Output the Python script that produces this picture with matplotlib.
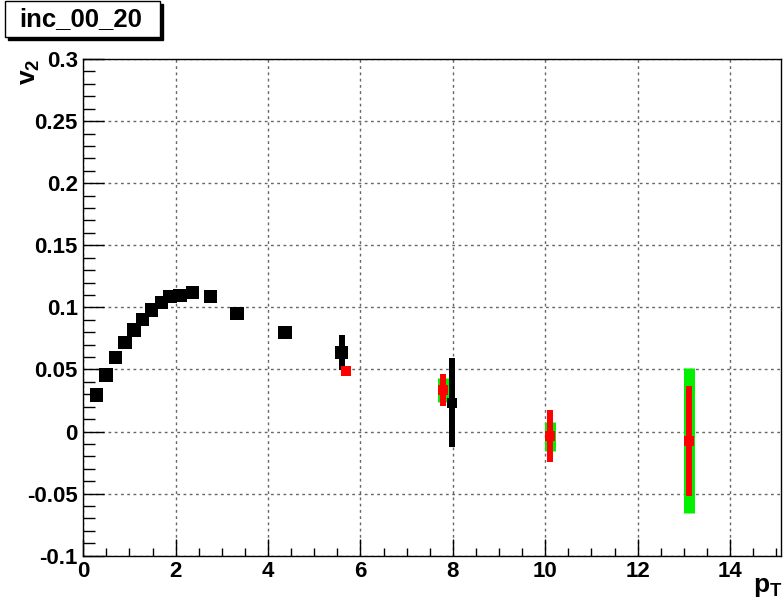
import matplotlib
matplotlib.use("Agg")
import matplotlib.pyplot as plt
from matplotlib.patches import Rectangle
from matplotlib.ticker import MultipleLocator

# ---------------- data ----------------
black_x = [0.29, 0.49, 0.69, 0.90, 1.10, 1.28, 1.48, 1.69, 1.88, 2.09, 2.36, 2.76, 3.33, 4.37, 5.59, 7.99]
black_y = [0.0294, 0.0455, 0.0597, 0.0715, 0.0817, 0.0903, 0.0978, 0.104, 0.1085, 0.1097, 0.112, 0.109,
           0.095, 0.0795, 0.0635, 0.0232]
black_err = [0, 0, 0, 0, 0, 0, 0, 0, 0, 0, 0, 0, 0, 0, 0.014, 0.036]

red_x = [5.69, 7.79, 10.1, 13.12]
red_y = [0.0487, 0.0334, -0.0037, -0.0076]
red_err = [0.0, 0.013, 0.021, 0.0443]

green_x = [7.79, 10.1, 13.12]
green_y = [0.0334, -0.0037, -0.0076]
green_err = [0.0097, 0.0117, 0.0584]

x_ticks = [0, 2, 4, 6, 8, 10, 12, 14]
y_ticks = [-0.1, -0.05, 0, 0.05, 0.1, 0.15, 0.2, 0.25, 0.3]
y_tick_labels = ["-0.1", "-0.05", "0", "0.05", "0.1", "0.15", "0.2", "0.25", "0.3"]
title = "inc_00_20"

# ---------------- style ----------------
plt.rcParams['font.family'] = ['Liberation Sans', 'DejaVu Sans']
plt.rcParams['mathtext.fontset'] = 'custom'
plt.rcParams['mathtext.rm'] = 'Liberation Sans:bold'
plt.rcParams['mathtext.it'] = 'Liberation Sans:bold'
plt.rcParams['mathtext.bf'] = 'Liberation Sans:bold'

W, H = 783, 606
fig = plt.figure(figsize=(W / 100, H / 100), dpi=100)
fig.patch.set_facecolor('white')

L, R, T, B = 83.3, 780.8, 59.0, 555.7
ax = fig.add_axes([L / W, 1 - B / H, (R - L) / W, (B - T) / H])
ax.set_xlim(0, 15.1)
ax.set_ylim(-0.1, 0.3)

# grid
ax.set_axisbelow(True)
ax.grid(True, which='major', color='0.4', linestyle=(0, (2, 2.5)), linewidth=1.0)

# ticks
ax.set_xticks(x_ticks)
ax.set_xticklabels([str(v) for v in x_ticks])
ax.set_yticks(y_ticks)
ax.set_yticklabels(y_tick_labels)
ax.xaxis.set_minor_locator(MultipleLocator(0.5))
ax.yaxis.set_minor_locator(MultipleLocator(0.01))
ax.tick_params(axis='x', which='major', direction='in', length=12.2, width=1, pad=4,
               labelsize=16, top=False)
ax.tick_params(axis='x', which='minor', direction='in', length=5.5, width=1, top=False)
ax.tick_params(axis='y', which='major', direction='in', length=15, width=1, pad=4,
               labelsize=16, right=False)
ax.tick_params(axis='y', which='minor', direction='in', length=8.6, width=1, right=False)
for lab in ax.get_xticklabels() + ax.get_yticklabels():
    lab.set_fontweight('bold')
for s in ax.spines.values():
    s.set_linewidth(1.0)
    s.set_color('black')

# data
ax.errorbar(green_x, green_y, yerr=green_err, fmt='none', ecolor='#00f000',
            elinewidth=7.9, capsize=0, zorder=3)
ax.errorbar(red_x, red_y, yerr=red_err, fmt='none', ecolor='red',
            elinewidth=4.3, capsize=0, zorder=4)
ax.errorbar(black_x, black_y, yerr=black_err, fmt='none', ecolor='black',
            elinewidth=4.3, capsize=0, zorder=5)
black_sizes = [92] * 15 + [52]
ax.scatter(black_x, black_y, s=black_sizes, marker='s', color='black', linewidths=0, zorder=6)
ax.scatter(red_x, red_y, s=44, marker='s', color='red', linewidths=0, zorder=7)

# axis titles
fig.text(30 / W, 1 - 59 / H, r'$\mathregular{v_{2}}$', rotation=90, ha='center', va='top',
         fontsize=19, fontweight='bold')
fig.text(782 / W, 1 - 575 / H, r'$\mathregular{p_{T}}$', ha='right', va='top',
         fontsize=19, fontweight='bold')

# title box with shadow
fig.patches.append(Rectangle((8 / W, 1 - 40 / H), 155 / W, 36 / H, transform=fig.transFigure,
                             facecolor='black', edgecolor='black', lw=1, zorder=1))
fig.patches.append(Rectangle((5 / W, 1 - 37 / H), 155 / W, 36 / H, transform=fig.transFigure,
                             facecolor='white', edgecolor='black', lw=1, zorder=2))
fig.text(81 / W, 1 - 19 / H, title, ha='center', va='center', fontsize=18.5,
         fontweight='bold', zorder=3)

fig.savefig('out.png', dpi=100)
